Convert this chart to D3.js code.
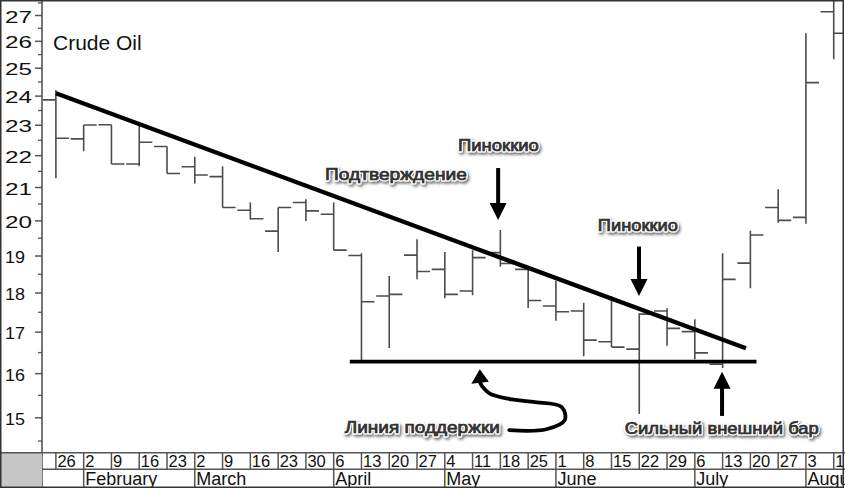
<!DOCTYPE html>
<html><head><meta charset="utf-8">
<script src="https://cdn.jsdelivr.net/npm/d3@7"></script>
<style>
html,body{margin:0;padding:0;background:#fff;}
svg{display:block;}
</style></head><body>
<svg id="chart" width="845" height="488"></svg>
<script>
// ---------- data ----------
const dayLabels = ["26","2","9","16","23","2","9","16","23","30","6","13","20","27","4","11","18","25","1","8","15","22","29","6","13","20","27","3","10"];
const monthNames = ["February","March","April","May","June","July","August"];
const monthStartWeek = [1,5,10,14,18,23,27];
const opens  = [23.85,22.53,23.00,21.72,22.28,21.63,21.32,20.30,19.69,20.53,20.18,19.00,17.91,19.01,18.62,18.04,19.08,18.62,17.65,17.52,16.75,16.57,17.52,17.00,16.21,18.79,20.38,20.09,27.13];
const highs  = [24.20,22.99,23.00,23.00,22.28,21.95,21.65,20.53,20.38,20.63,20.53,19.06,18.44,19.46,19.10,19.15,19.72,18.65,18.31,17.73,17.90,17.46,17.59,17.31,19.06,19.70,20.93,26.29,28.50];
const lows   = [21.27,22.13,21.72,21.65,21.42,21.11,20.38,20.03,19.10,19.98,19.15,16.27,16.60,18.35,17.85,17.93,18.69,17.60,17.27,16.40,16.62,15.07,16.65,16.33,16.12,18.11,19.93,19.90,25.31];
const closes = [22.55,22.99,21.72,22.42,21.42,21.37,20.38,20.05,20.38,20.28,19.15,17.76,17.95,18.56,17.95,18.94,18.78,17.79,17.50,16.79,16.62,17.44,17.08,16.48,18.35,19.58,20.00,24.46,26.29];
const yTicks = [15,16,17,18,19,20,21,22,23,24,25,26,27];
const yMinorTicks = [14.5,15.5,16.5,17.5,18.5,19.5,20.5,21.5,22.5,23.5,24.5,25.5,26.5,27.5];
const trendLine = [[0,24.08],[24.84,16.59]];
const supportLine = [[10.58,16.27],[25.22,16.27]];
const noteTexts = ["Подтверждение","Пиноккио","Пиноккио","Сильный внешний бар","Линия поддержки"];
const noteWeek  = [12.24,15.93,20.95,23.97,13.19];
const notePrice = [21.22,22.12,19.68,14.64,14.65];
const noteWidth = [142,81,80,194,155];
const arrowWeek = [15.92,20.99,23.98];
const arrowFrom = [21.59,19.25,15.03];
const arrowTo   = [20.01,17.91,16.03];
const curveWeek  = [16.32,17.66,18.32,18.20,17.18,16.22,15.62,15.36,15.26];
const curvePrice = [14.72,14.74,14.94,15.23,15.34,15.42,15.53,15.68,15.80];
const curveTip = [15.26,16.09];

// ---------- layout ----------
const W = 845, H = 488;
const axisX = 42, plotTop = 1, plotBottom = 452.7, rowMid = 469.3, rowBot = 487, plotRight = 844;
const font = "'Liberation Sans', Arial, Helvetica, sans-serif";

const svg = d3.select("#chart");
const defs = svg.append("defs");
defs.append("clipPath").attr("id","plotclip").append("rect")
  .attr("x",axisX).attr("y",plotTop).attr("width",plotRight-axisX).attr("height",plotBottom-plotTop);
const f = defs.append("filter").attr("id","shadow").attr("x","-10%").attr("y","-40%").attr("width","130%").attr("height","200%");
f.append("feDropShadow").attr("dx",1.5).attr("dy",2).attr("stdDeviation",1.4).attr("flood-color","#000").attr("flood-opacity",0.6);

const x = d3.scaleLinear().domain([-0.5, 28.37]).range([axisX, plotRight]);
const y = d3.scaleLog().domain([15, 27]).range([417.3, 15]);
const step = x(1) - x(0);
const tick = step * 0.47;

svg.append("rect").attr("width",W).attr("height",H).attr("fill","#fff");

// ---------- bars ----------
const plot = svg.append("g").attr("clip-path","url(#plotclip)");
const bars = plot.selectAll("g.bar").data(d3.range(opens.length)).join("g")
  .attr("stroke","#4c4c4c").attr("stroke-width",1.6);
bars.append("line").attr("x1",i=>x(i)).attr("x2",i=>x(i)).attr("y1",i=>y(highs[i])).attr("y2",i=>y(lows[i]));
bars.append("line").attr("x1",i=>x(i)-tick).attr("x2",i=>x(i)).attr("y1",i=>y(opens[i])).attr("y2",i=>y(opens[i]));
bars.append("line").attr("x1",i=>x(i)).attr("x2",i=>x(i)+tick).attr("y1",i=>y(closes[i])).attr("y2",i=>y(closes[i]));

// ---------- trend / support lines ----------
const lineGen = d3.line().x(d=>x(d[0])).y(d=>y(d[1]));
plot.append("path").attr("d",lineGen(trendLine)).attr("stroke","#000").attr("stroke-width",4.3).attr("fill","none");
plot.append("path").attr("d",lineGen(supportLine)).attr("stroke","#000").attr("stroke-width",3.6).attr("fill","none");

// ---------- y axis ----------
const yAxis = d3.axisLeft(y).tickValues(yTicks).tickSize(7).tickFormat(d3.format("d"));
const gy = svg.append("g").attr("transform",`translate(${axisX},0)`).call(yAxis);
gy.select(".domain").remove();
gy.selectAll(".tick line").attr("stroke","#555").attr("stroke-width",1.5);
gy.selectAll(".tick text").attr("x",-37).attr("dy","0.42em").attr("text-anchor","start")
  .attr("textLength",d=>d>=20?27:20).attr("lengthAdjust","spacingAndGlyphs")
  .attr("font-family",font).attr("font-size",17).attr("fill","#111");
const yMinor = d3.axisLeft(y).tickValues(yMinorTicks).tickSize(4).tickFormat("");
const gym = svg.append("g").attr("transform",`translate(${axisX},0)`).call(yMinor);
gym.select(".domain").remove();
gym.selectAll(".tick line").attr("stroke","#555").attr("stroke-width",1.3);
svg.append("line").attr("x1",axisX).attr("x2",axisX).attr("y1",0).attr("y2",rowBot)
  .attr("stroke","#555").attr("stroke-width",1.6);

// ---------- x axis band ----------
svg.append("rect").attr("x",0).attr("y",plotBottom).attr("width",axisX).attr("height",H-plotBottom).attr("fill","#c6c6c6");
const band = svg.append("g").attr("stroke","#555").attr("stroke-width",1.5);
band.append("line").attr("x1",0).attr("x2",W).attr("y1",plotBottom).attr("y2",plotBottom);
band.append("line").attr("x1",axisX).attr("x2",W).attr("y1",rowMid).attr("y2",rowMid);
band.selectAll("line.day").data(d3.range(dayLabels.length)).join("line")
  .attr("x1",i=>x(i)).attr("x2",i=>x(i)).attr("y1",plotBottom).attr("y2",rowMid);
band.selectAll("line.mon").data(monthStartWeek).join("line")
  .attr("x1",i=>x(i)).attr("x2",i=>x(i)).attr("y1",rowMid).attr("y2",rowBot);
svg.selectAll("text.day").data(dayLabels).join("text")
  .attr("x",(d,i)=>x(i)+1.5).attr("y",467).text(d=>d)
  .attr("font-family",font).attr("font-size",16.5).attr("fill","#111");
svg.selectAll("text.mon").data(monthNames).join("text")
  .attr("x",(d,i)=>x(monthStartWeek[i])+1.5).attr("y",485).text(d=>d)
  .attr("font-family",font).attr("font-size",18).attr("fill","#111");

// ---------- title ----------
svg.append("text").attr("x",53).attr("y",49.5).text("Crude Oil")
  .attr("font-family",font).attr("font-size",21).attr("fill","#111");

// ---------- annotations ----------
const notes = svg.append("g");
noteTexts.forEach((t,k)=>{
  const common = s => s.attr("x",x(noteWeek[k])).attr("y",y(notePrice[k]))
    .attr("text-anchor","middle").attr("textLength",noteWidth[k]).attr("lengthAdjust","spacingAndGlyphs")
    .attr("font-family",font).attr("font-size",16.5).text(t);
  common(notes.append("text")).attr("fill","#fff").attr("stroke","#fff").attr("stroke-width",3)
    .attr("stroke-linejoin","round").attr("filter","url(#shadow)");
  common(notes.append("text")).attr("fill","#3a3a3a").attr("stroke","#2a2a2a").attr("stroke-width",0.7);
});
const headL = 17, headW = 8.5;
arrowWeek.forEach((w,k)=>{
  const ax = x(w), y0 = y(arrowFrom[k]), y1 = y(arrowTo[k]);
  const dir = y1 > y0 ? 1 : -1;
  notes.append("line").attr("x1",ax).attr("x2",ax).attr("y1",y0).attr("y2",y1-dir*headL+dir*1)
    .attr("stroke","#000").attr("stroke-width",4);
  notes.append("path").attr("d",`M${ax-headW},${y1-dir*headL}L${ax+headW},${y1-dir*headL}L${ax},${y1}Z`).attr("fill","#000");
});
const curvePts = curveWeek.map((w,k)=>[x(w),y(curvePrice[k])]);
notes.append("path").attr("d",d3.line().curve(d3.curveCatmullRom)(curvePts))
  .attr("stroke","#000").attr("stroke-width",3.8).attr("fill","none").attr("stroke-linecap","round");
const tx = x(curveTip[0]), ty = y(curveTip[1]);
const by = curvePts[curvePts.length-1][1] + 1;
notes.append("path").attr("d",`M${tx-8.5},${by+1}L${tx+9},${by-1}L${tx},${ty}Z`).attr("fill","#000");

// ---------- outer frame ----------
svg.append("rect").attr("x",0.75).attr("y",0.75).attr("width",W-2.5).attr("height",H-1.5)
  .attr("fill","none").attr("stroke","#333").attr("stroke-width",1.5);
</script>
</body></html>
